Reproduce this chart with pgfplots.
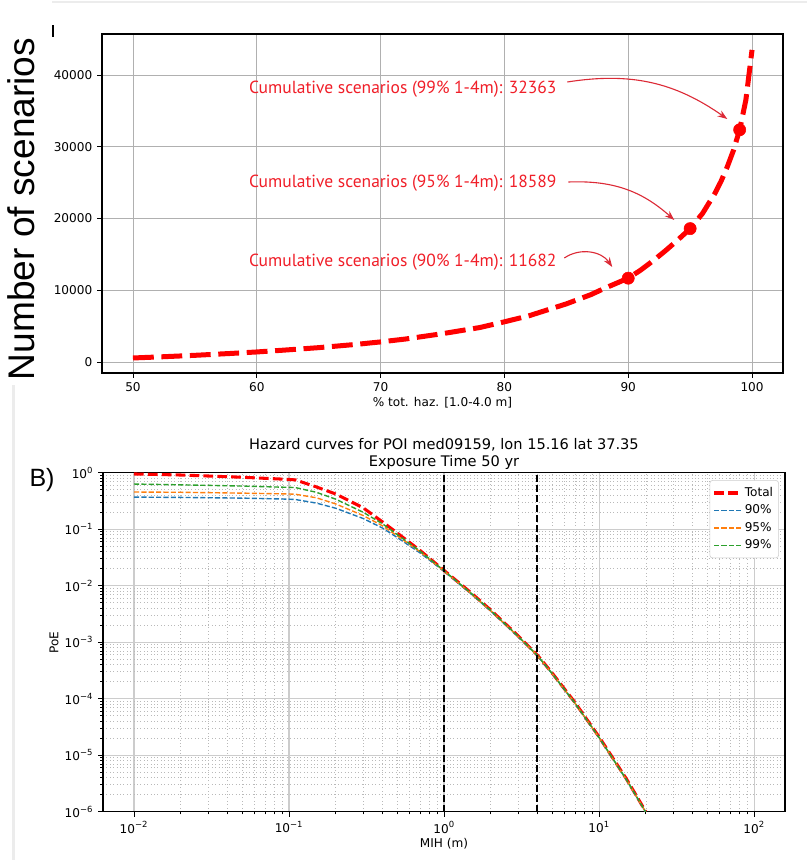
\documentclass[border=0pt]{standalone}
\usepackage{pgfplots}
\pgfplotsset{compat=1.18}
\usepackage{fontspec}
\setmainfont{DejaVu Sans}
\newfontfamily\arial{Liberation Sans}
\newfontfamily\annfont{PT Sans}
\usetikzlibrary{arrows.meta}
\definecolor{tabblue}{HTML}{1F77B4}
\definecolor{taborange}{HTML}{FF7F0E}
\definecolor{tabgreen}{HTML}{2CA02C}
\definecolor{gridgray}{HTML}{B0B0B0}
\definecolor{leggray}{HTML}{CCCCCC}
\definecolor{anncol}{HTML}{F01E28}
\definecolor{arrcol}{HTML}{DC2A36}
\newcommand{\tl}{\fontsize{8.7}{10}\selectfont}
\newcommand{\pw}[1]{10\textsuperscript{#1}}

\pgfplotsset{
  mplbase/.style={
    scale only axis,
    anchor=south west,
    tick align=outside,
    tick pos=left,
    major tick length=3.5pt,
    tick style={black, line width=0.6pt},
    axis line style={line width=0.85pt},
    tick label style={font=\tl},
    label style={font=\tl},
    /pgf/number format/assume math mode=true,
  },
  pct/.style={color=#1, line width=1pt, dash pattern=on 3.7pt off 1.6pt,
    legend image code/.code={\draw[draw=#1, line width=1.3pt, dash pattern=on 3.7pt off 1.6pt]
      (0pt,0pt) -- (19pt,0pt);}},
}

\begin{document}
\begin{tikzpicture}
\path[use as bounding box] (0,0) rectangle (581.04pt,619.2pt);
% screenshot edges
\draw[gray!15, line width=1pt] (37.4pt,617.8pt) -- (581pt,617.8pt);
\draw[gray!15, line width=1.5pt] (9.7pt,0pt) -- (9.7pt,342pt);
\draw[black, line width=1pt] (38.2pt,592.6pt) -- (38.2pt,601.2pt);

%% ---------- top panel ----------
\begin{axis}[mplbase,
    at={(73.44pt,350.64pt)},
    width=490.32pt, height=244.08pt,
    xmin=47.5, xmax=102.5,
    ymin=-1533, ymax=45714,
    xtick={50,60,70,80,90,100},
    ytick={0,10000,20000,30000,40000},
    yticklabels={0,10000,20000,30000,40000},
    scaled y ticks=false,
    grid=major,
    major grid style={gridgray, line width=0.6pt},
    xlabel={\% tot. haz. [1.0-4.0 m]},
    xlabel style={at={(rel axis cs:0.5,-0.0885)}, anchor=center},
    ylabel={\arial\fontsize{26.7}{30}\selectfont Number of scenarios},
    ylabel style={at={(rel axis cs:-0.1189,0.4838)}, anchor=center},
  ]
  \addplot[red, line width=3.6pt, dash pattern=on 15pt off 5.5pt] coordinates {
    (50,560) (52,700) (55,930) (58,1200) (60,1400) (62,1630) (65,2000)
    (68,2450) (70,2800) (72,3200) (75,3950) (78,4800) (80,5600) (82,6450)
    (85,8100) (87,9400) (88,10200) (90,11682) (91,12800) (92,14100)
    (93,15500) (94,17000) (95,18589) (96,20700) (97,23500) (97.5,25200)
    (98,27200) (98.5,29500) (99,32363) (99.5,36500) (100,43500)
  };
  \addplot[only marks, mark=*, mark size=4.4pt, red] coordinates {
    (90,11682) (95,18589) (99,32363)
  };
  \node[anncol, anchor=base west, inner sep=0pt, font=\annfont\fontsize{12.6}{14}\selectfont]
    at (axis cs:59.35,37420) {Cumulative scenarios (99\% 1-4m): 32363};
  \node[anncol, anchor=base west, inner sep=0pt, font=\annfont\fontsize{12.6}{14}\selectfont]
    at (axis cs:59.35,24280) {Cumulative scenarios (95\% 1-4m): 18589};
  \node[anncol, anchor=base west, inner sep=0pt, font=\annfont\fontsize{12.6}{14}\selectfont]
    at (axis cs:59.35,13370) {Cumulative scenarios (90\% 1-4m): 11682};
  \draw[arrcol, line width=0.8pt, -{Stealth[length=7pt,width=5pt]}]
    (axis cs:85.08,39024) to[bend left=22] (axis cs:98.0,33868);
  \draw[arrcol, line width=0.8pt, -{Stealth[length=7pt,width=5pt]}]
    (axis cs:85.17,25087) to[bend left=22] (axis cs:93.72,19791);
  \draw[arrcol, line width=0.8pt, -{Stealth[length=7pt,width=5pt]}]
    (axis cs:84.84,14495) to[bend left=45] (axis cs:88.71,13240);
\end{axis}

%% ---------- bottom panel ----------
\begin{axis}[mplbase,
    at={(74.16pt,34.78pt)},
    width=491.04pt, height=244.08pt,
    xmode=log, ymode=log,
    xmin=0.00631, xmax=158,
    ymin=1e-6, ymax=1,
    xtick={0.01,0.1,1,10,100},
    xticklabels={\pw{−2},\pw{−1},\pw{0},\pw{1},\pw{2}},
    ytick={1e-6,1e-5,1e-4,1e-3,1e-2,1e-1,1},
    yticklabels={\pw{−6},\pw{−5},\pw{−4},\pw{−3},\pw{−2},\pw{−1},\pw{0}},
    minor tick length=2pt,
    grid=both,
    major grid style={gray!40, line width=0.9pt},
    minor grid style={gray!55, line width=0.45pt, dotted},
    xlabel={MIH (m)},
    xlabel style={at={(rel axis cs:0.5,-0.0953)}, anchor=center},
    ylabel={PoE},
    ylabel style={at={(rel axis cs:-0.0718,0.4985)}, anchor=center},
    title={Hazard curves for POI med09159, lon 15.16 lat 37.35\\Exposure Time 50 yr},
    title style={at={(rel axis cs:0.5,1)}, anchor=south, yshift=-3.8pt, align=center,
      inner sep=0pt, font=\fontsize{10.5}{12.2}\selectfont},
    legend style={at={(0.991,0.978)}, anchor=north east,
      draw=leggray, rounded corners=2pt, fill=white,
      font=\tl, row sep=0.6pt, inner xsep=2pt, inner ysep=3pt},
    legend cell align=left,
  ]
  \addplot[red, line width=2.2pt, dash pattern=on 7pt off 3pt,
    legend image code/.code={\draw[draw=red, line width=2.2pt, dash pattern=on 7pt off 3pt]
      (0pt,0pt) -- (19pt,0pt);}] coordinates {
    (0.01,0.95) (0.02,0.91) (0.05,0.83) (0.1,0.76) (0.11,0.745) (0.15,0.56)
    (0.2,0.42) (0.3,0.24) (0.4,0.135) (0.5,0.085) (0.7,0.042) (1,0.0186)
    (1.5,0.0074) (2,0.0037) (3,0.0013) (4,0.00059) (5,0.00028) (7,8.5e-5)
    (10,2.1e-5) (15,3.8e-6) (20,1.0e-6)
  };
  \addlegendentry{Total}
  \addplot[pct=tabblue] coordinates {
    (0.01,0.37) (0.02,0.365) (0.05,0.355) (0.1,0.34) (0.11,0.335) (0.15,0.29)
    (0.2,0.235) (0.3,0.155) (0.4,0.105) (0.5,0.071) (0.7,0.038) (1,0.018)
    (1.5,0.0071) (2,0.00355) (3,0.00125) (4,0.000575) (5,0.000272) (7,8.2e-5)
    (10,2.03e-5) (15,3.65e-6) (20,0.97e-6)
  };
  \addlegendentry{90\%}
  \addplot[pct=taborange] coordinates {
    (0.01,0.455) (0.02,0.45) (0.05,0.435) (0.1,0.42) (0.11,0.415) (0.15,0.36)
    (0.2,0.28) (0.3,0.175) (0.4,0.115) (0.5,0.076) (0.7,0.04) (1,0.0182)
    (1.5,0.0072) (2,0.0036) (3,0.00127) (4,0.000578) (5,0.000274) (7,8.3e-5)
    (10,2.04e-5) (15,3.68e-6) (20,0.98e-6)
  };
  \addlegendentry{95\%}
  \addplot[pct=tabgreen] coordinates {
    (0.01,0.63) (0.02,0.61) (0.05,0.58) (0.1,0.55) (0.11,0.545) (0.15,0.45)
    (0.2,0.34) (0.3,0.2) (0.4,0.125) (0.5,0.08) (0.7,0.041) (1,0.0184)
    (1.5,0.0073) (2,0.00365) (3,0.00128) (4,0.00058) (5,0.000275) (7,8.3e-5)
    (10,2.05e-5) (15,3.7e-6) (20,0.98e-6)
  };
  \addlegendentry{99\%}
  \addplot[black, line width=1.4pt, dash pattern=on 5pt off 2.2pt, forget plot]
    coordinates {(1,1e-6) (1,1)};
  \addplot[black, line width=1.4pt, dash pattern=on 5pt off 2.2pt, forget plot]
    coordinates {(4,1e-6) (4,1)};
\end{axis}

\node[font=\arial\fontsize{18}{20}\selectfont] at (30.24pt,273.6pt) {B)};
\end{tikzpicture}
\end{document}
